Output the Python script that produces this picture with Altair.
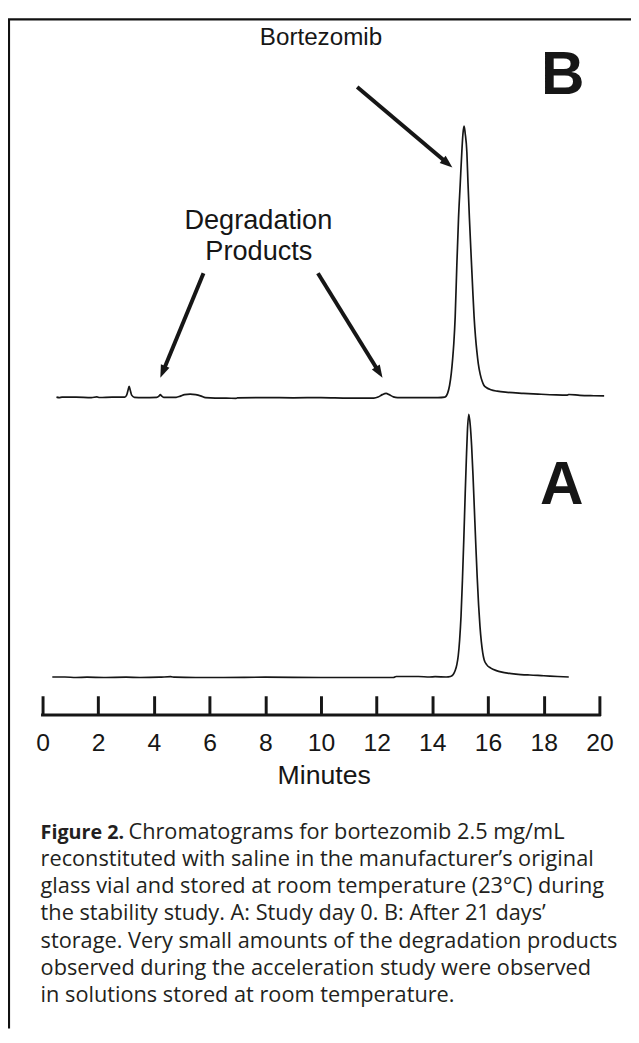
import math
import altair as alt
import pandas as pd

# ---------------- data ----------------
# Chromatogram A (study day 0): retention time (min) and response (mAU)
a_time = [0.35, 0.8, 1.2, 1.6, 2.2, 3.0, 3.5, 4.2, 4.6, 4.75, 5.5, 6.5, 8.0, 10.0,
          11.5, 12.6, 12.7, 13.5, 13.9, 14.1, 14.5, 14.65, 14.75, 14.82, 14.88,
          14.93, 14.98, 15.03, 15.08, 15.13, 15.18, 15.22, 15.26, 15.31, 15.36,
          15.41, 15.46, 15.51, 15.56, 15.61, 15.66, 15.71, 15.76, 15.81, 15.86,
          15.95, 16.1, 16.3, 16.5, 16.7, 17.0, 17.5, 18.0, 18.5, 18.9]
a_signal = [0.5, 0.5, 0.0, 0.3, 0.0, 0.3, 0.0, 0.3, 0.8, 0.3, 0.0, 0.0, 0.3, 0.0,
            0.0, 0.0, 1.0, 1.0, 0.5, 0.8, 0.5, 1.0, 3.0, 7.0, 13.0,
            22.0, 38.0, 62.0, 98.0, 140.0, 186.0, 220.0, 250.0, 266.5, 256.0,
            235.0, 205.0, 170.0, 135.0, 102.0, 74.0, 52.0, 36.0, 25.0, 18.0,
            13.0, 9.5, 7.0, 5.5, 4.5, 3.5, 2.5, 1.8, 1.0, 0.5]

# Chromatogram B (after 21 days): retention time (min) and response (mAU)
b_time = [0.5, 0.6, 0.7, 1.2, 1.75, 1.95, 2.05, 2.5, 2.95, 3.02, 3.07, 3.11, 3.15,
          3.2, 3.3, 3.6, 4.1, 4.18, 4.23, 4.28, 4.35, 4.8, 4.95, 5.1, 5.3, 5.5,
          5.7, 5.85, 6.2, 6.6, 6.95, 7.0, 8.0, 9.0, 10.0, 11.0, 11.9, 12.05, 12.2,
          12.34, 12.45, 12.6, 12.75, 13.5, 14.2, 14.45, 14.55, 14.62, 14.68,
          14.73, 14.77, 14.82, 14.88, 14.94, 15.0, 15.06, 15.1, 15.14, 15.18,
          15.24, 15.28, 15.33, 15.4, 15.45, 15.5, 15.55, 15.6, 15.65, 15.72,
          15.79, 15.85, 15.95, 16.1, 16.33, 16.7, 17.27, 17.8, 18.45, 18.85,
          18.9, 19.3, 19.8, 20.17]
b_signal = [1.0, 0.5, 1.0, 1.0, 0.5, 1.2, 0.6, 1.0, 1.0, 3.0, 8.0, 12.0, 8.0,
            3.0, 0.8, 0.5, 0.8, 2.0, 3.5, 2.0, 0.8, 0.8, 2.0, 3.5, 4.0, 3.5,
            2.0, 0.5, 0.0, 0.0, -0.3, 0.3, 0.5, 0.3, 0.5, 0.0, 0.0, 1.0, 3.5,
            4.8, 3.5, 1.2, 0.5, 0.5, 0.5, 1.0, 5.0, 13.0, 25.0,
            40.0, 55.0, 82.0, 135.0, 182.0, 216.0, 250.0, 268.0, 275.5, 268.0,
            249.0, 218.0, 183.0, 140.0, 110.0, 82.0, 62.0, 47.0, 35.0, 24.0,
            17.0, 13.0, 10.5, 8.5, 7.0, 5.8, 4.8, 4.0, 3.2, 3.0,
            3.6, 2.8, 2.4, 2.2]

x_ticks = [0, 2, 4, 6, 8, 10, 12, 14, 16, 18, 20]

caption_bold = "Figure 2."
caption_line1 = "Chromatograms for bortezomib 2.5 mg/mL"
caption_rest = [
    "reconstituted with saline in the manufacturer\u2019s original",
    "glass vial and stored at room temperature (23\u00b0C) during",
    "the stability study. A: Study day 0. B: After 21 days\u2019",
    "storage. Very small amounts of the degradation products",
    "observed during the acceleration study were observed",
    "in solutions stored at room temperature.",
]

# ---------------- layout ----------------
W, H = 631, 710
X_DOMAIN = [-1.241, 21.135]
Y_DOMAIN = [-38.5, 671.5]
B_OFFSET = 283
PXM = W / (X_DOMAIN[1] - X_DOMAIN[0])  # px per minute
PXY = H / (Y_DOMAIN[1] - Y_DOMAIN[0])  # px per mAU
INK = "#161616"
CHART_FONT = "Liberation Sans"
CAP_FONT = "Open Sans"

xs = alt.Scale(domain=X_DOMAIN, nice=False, zero=False)
ys = alt.Scale(domain=Y_DOMAIN, nice=False, zero=False)

df_a = pd.DataFrame({"time": a_time, "signal": a_signal})
df_b = pd.DataFrame({"time": b_time, "signal": b_signal})

x_enc = alt.X("time:Q", scale=xs,
              axis=alt.Axis(values=x_ticks, orient="bottom", offset=-20,
                            tickSize=20, tickWidth=3, tickColor=INK,
                            domain=False, grid=False, labelFontSize=25,
                            labelFont=CHART_FONT, labelColor=INK,
                            labelPadding=15, labelFlush=False, title="Minutes",
                            titleFont=CHART_FONT, titleFontSize=27,
                            titleFontWeight="normal", titleColor=INK,
                            titlePadding=8, titleX=(10.1 - X_DOMAIN[0]) * PXM))

line_a = alt.Chart(df_a).mark_line(color=INK, strokeWidth=1.7, interpolate="monotone").encode(
    x=x_enc,
    y=alt.Y("signal:Q", scale=ys, axis=None),
)
line_b = alt.Chart(df_b).transform_calculate(
    y=f"datum.signal + {B_OFFSET}"
).mark_line(color=INK, strokeWidth=1.7, interpolate="monotone").encode(
    x=alt.X("time:Q", scale=xs),
    y=alt.Y("y:Q", scale=ys, axis=None),
)

# axis base line from first to last tick
axis_line = alt.Chart(pd.DataFrame({"x0": [x_ticks[0]], "x1": [x_ticks[-1]]})).mark_rule(
    color=INK, strokeWidth=3, strokeCap="square").encode(
    x=alt.X("x0:Q", scale=xs), x2="x1:Q", y=alt.value(H - 0.5))

# annotation arrows (in data units: minutes, mAU)
arrows = [
    # name, start time, start y, tip time, tip y
    ("bort", 11.3, 598.0, 14.72, 516.5),
    ("deg1", 5.78, 409.5, 4.23, 303.5),
    ("deg2", 9.89, 409.5, 12.21, 303.5),
]
rows = []
for name, t0, y0, t1, y1 in arrows:
    dx = (t1 - t0) * PXM
    dy = -(y1 - y0) * PXY
    L = math.hypot(dx, dy)
    ang = math.degrees(math.atan2(dx, -dy)) % 360
    back = 9.0
    te = t1 - dx / L * back / PXM
    ye = y1 + dy / L * back / PXY
    rows.append({"name": name, "t0": t0, "y0": y0, "te": te, "ye": ye,
                 "t1": t1, "y1": y1, "angle": ang})
df_arr = pd.DataFrame(rows)

arrow_lines = alt.Chart(df_arr).mark_rule(color=INK, strokeWidth=4).encode(
    x=alt.X("t0:Q", scale=xs), y=alt.Y("y0:Q", scale=ys), x2="te:Q", y2="ye:Q")
arrow_heads = alt.Chart(df_arr).mark_point(
    shape="M0,0 L0.62,1.7 L-0.62,1.7 Z", filled=True, color=INK, size=230, opacity=1,
    strokeWidth=0).encode(
    x=alt.X("t1:Q", scale=xs), y=alt.Y("y1:Q", scale=ys), angle=alt.Angle("angle:Q", scale=None))

labels = pd.DataFrame({
    "t": [10.0, 7.75, 7.77],
    "y": [641.0, 454.5, 422.5],
    "text": ["Bortezomib", "Degradation", "Products"],
    "size": [24.5, 27.5, 27.5],
})
label_n = alt.Chart(labels).mark_text(
    font=CHART_FONT, color=INK, align="center", baseline="alphabetic").encode(
    x=alt.X("t:Q", scale=xs), y=alt.Y("y:Q", scale=ys), text="text:N",
    size=alt.Size("size:Q", scale=None))

panels = pd.DataFrame({"t": [18.68, 18.65], "y": [590.5, 175.5], "text": ["B", "A"]})
label_b = alt.Chart(panels).mark_text(
    font=CHART_FONT, fontSize=61, fontWeight="bold", color=INK, align="center",
    baseline="alphabetic").encode(
    x=alt.X("t:Q", scale=xs), y=alt.Y("y:Q", scale=ys), text="text:N")

# frame lines (left and top)
one = pd.DataFrame({"k": [0]})
frame_left = alt.Chart(one).mark_rule(color="#111", strokeWidth=2.2).encode(
    x=alt.value(1), y=alt.value(5), y2=alt.value(1027))
frame_top = alt.Chart(one).mark_rule(color="#111", strokeWidth=2.2).encode(
    x=alt.value(0), x2=alt.value(W), y=alt.value(5))

# caption
CAP_X, CAP_Y, CAP_LH, CAP_FS = 33, 835, 27.5, 22
cap_color = "#231f20"
cap_bold = alt.Chart(pd.DataFrame({"text": [caption_bold]})).mark_text(
    font=CAP_FONT, fontSize=20, fontWeight="bold", color=cap_color, align="left",
    baseline="alphabetic").encode(x=alt.value(CAP_X), y=alt.value(CAP_Y), text="text:N")
cap_l1 = alt.Chart(pd.DataFrame({"text": [caption_line1]})).mark_text(
    font=CAP_FONT, fontSize=CAP_FS, color=cap_color, align="left",
    baseline="alphabetic").encode(x=alt.value(CAP_X + 89), y=alt.value(CAP_Y), text="text:N")
cap_rest = alt.Chart(pd.DataFrame({"text": ["\n".join(caption_rest)]})).mark_text(
    font=CAP_FONT, fontSize=CAP_FS, color=cap_color, align="left", baseline="alphabetic",
    lineBreak="\n", lineHeight=CAP_LH).encode(
    x=alt.value(CAP_X), y=alt.value(CAP_Y + CAP_LH), text="text:N")

chart = alt.layer(
    line_a, line_b, axis_line, arrow_lines, arrow_heads, label_n, label_b,
    frame_left, frame_top, cap_bold, cap_l1, cap_rest,
).properties(
    width=W, height=H,
    autosize=alt.AutoSizeParams(type="none"),
    padding={"left": 0, "top": 0, "right": 0, "bottom": 317},
    background="white",
).configure_view(strokeWidth=0)

chart.save("out.html", embed_options={"renderer": "svg", "actions": False})
